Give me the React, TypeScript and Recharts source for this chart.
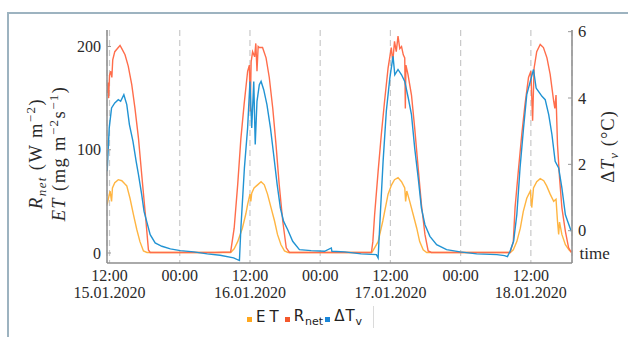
import React from "react";
import { CartesianGrid, Legend, Line, LineChart, XAxis, YAxis } from "recharts";

// time in hours since 15.01.2020 00:00
const etTime = [
  11.6, 11.9, 12.1, 12.35, 12.5, 12.9, 13.5, 14.1, 14.6, 14.95, 15.5, 16.1, 16.65, 17.2, 17.8, 18.4, 24, 30, 32.7,
  33.3, 33.9, 34.7, 35.3, 35.6, 36.0, 36.15, 36.3, 36.7, 37.3, 37.9, 38.45, 39.0, 39.6, 40.2, 40.7, 41.3, 41.9, 42.5, 48, 54, 56.8,
  57.0, 57.9, 58.7, 59.6, 60.2, 60.7, 61.3, 61.9, 62.45, 62.6, 62.8, 63.3, 63.9, 64.5, 65.0, 65.6, 66.2, 72, 78, 80.5,
  81.0, 81.6, 82.2, 82.7, 83.3, 83.9, 84.15, 84.45, 85.0, 85.6, 86.2, 86.7, 87.3, 87.9, 88.3, 88.55, 88.75, 88.9, 89.3, 89.9, 90.5, 90.9,
];
const etValue = [
  47, 55, 60, 50, 63, 68, 71, 70, 67, 65, 53, 37, 23, 11, 2, 0.5, 0.5, 0.5, 0.5,
  4, 11, 24, 38, 47, 57, 50, 58, 63, 66, 69, 66, 57, 44, 31, 18, 8, 2, 0.5, 0.5, 0.5, 0.5,
  2, 11, 31, 57, 66, 71, 73, 69, 63, 50, 60, 50, 37, 24, 11, 3, 0.5, 0.5, 0.5, 0.5,
  3, 11, 24, 40, 53, 60, 44, 63, 69, 72, 70, 65, 57, 50, 52, 31, 18, 30, 18, 8, 3, 1,
];

const rnetTime = [
  11.6, 11.75, 11.85, 12.0, 12.2, 12.4, 12.55, 12.9, 13.5, 13.8, 14.1, 14.65, 15.2, 15.8, 16.35, 16.95, 17.5, 18.1, 18.65, 18.95, 24, 30, 32.7,
  33.3, 33.9, 34.45, 35.0, 35.6, 35.9, 36.05, 36.2, 36.45, 36.8, 37.0, 37.2, 37.4, 37.6, 38.15, 38.75, 39.3, 39.9, 40.45, 41.0, 41.6, 42.2, 42.75, 48, 54, 56.75,
  57.0, 57.3, 57.9, 58.45, 59.0, 59.6, 60.15, 60.4, 60.7, 61.0, 61.3, 61.6, 61.9, 62.2, 62.45, 62.55, 62.65, 63.0, 63.6, 64.15, 64.75, 65.3, 65.9, 66.45, 67.0, 72, 78, 80.45,
  81.0, 81.3, 81.9, 82.45, 83.0, 83.6, 84.0, 84.3, 84.55, 85.0, 85.6, 86.15, 86.75, 87.3, 87.9, 88.1, 88.3, 88.55, 88.9, 89.3, 89.9, 90.45, 90.9,
];
const rnetValue = [
  155, 165, 150, 172, 176, 170, 187, 195, 199, 201, 198, 192, 181, 163, 140, 111, 76, 39, 3, 0.5, 0.5, 0.5, 1,
  24, 66, 111, 144, 176, 182, 137, 185, 195, 190, 203, 176, 200, 199, 199, 189, 170, 140, 105, 66, 31, 5, 0.5, 0.5, 0.5, 0.5,
  11, 37, 79, 115, 147, 179, 199, 185, 205, 195, 210, 198, 200, 192, 189, 140, 182, 173, 153, 121, 82, 47, 18, 2, 0.5, 0.5, 0.5, 0.5,
  11, 44, 82, 115, 144, 170, 176, 128, 179, 195, 202, 199, 189, 173, 147, 140, 153, 105, 73, 44, 21, 5, 0.5,
];

const dtTime = [
  11.6, 11.95, 12.35, 12.9, 13.5, 13.9, 14.45, 14.95, 15.4, 16.0, 16.55, 16.95, 17.5, 17.9, 18.35, 18.95, 19.8, 20.95, 22.4, 24.1, 26.4, 28.7, 30.9, 33.2,
  34.2, 34.45, 35.05, 35.6, 36.0, 36.3, 36.65, 36.9, 37.2, 37.6, 37.9, 38.35, 38.9, 39.5, 40.05, 40.65, 41.2, 41.75, 42.45, 43.3, 44.45, 46.45, 48.75, 49.9, 50.0, 52.2, 55.0,
  57.6, 57.9, 58.3, 58.75, 59.3, 59.9, 60.45, 60.75, 61.3, 61.9, 62.45, 63.05, 63.6, 64.15, 64.75, 65.3, 65.9, 66.75, 67.9, 69.6, 71.9, 74.75, 78.2,
  79.5, 80.0, 80.45, 81.05, 81.6, 82.15, 82.75, 83.3, 83.9, 84.45, 84.9, 85.3, 85.9, 86.45, 87.05, 87.6, 88.15, 88.75, 89.3, 89.9, 90.3, 90.9,
];
const dtValue = [
  1.79, 3.1, 3.7, 3.85, 3.95, 3.9, 4.1, 3.8, 3.2, 2.7, 2.09, 1.69, 1.09, 0.58, 0.28, -0.12, -0.37, -0.47, -0.55, -0.6, -0.64, -0.7, -0.74, -0.82,
  -0.9, 0.08, 1.89, 3.1, 4.5, 3.1, 4.5, 2.6, 3.9, 4.4, 4.5, 4.25, 3.8, 3.1, 2.29, 1.39, 0.68, 0.28, 0.03, -0.32, -0.57, -0.6, -0.62, -0.52, -0.62, -0.64, -0.7,
  -0.72, -0.82, 0.58, 2.09, 3.6, 4.6, 5.26, 4.7, 4.86, 4.7, 4.5, 4.0, 3.5, 2.49, 1.59, 0.68, 0.18, -0.17, -0.42, -0.57, -0.64, -0.7, -0.72,
  -0.75, -0.78, -0.62, -0.32, 0.48, 1.89, 3.1, 4.1, 4.5, 4.86, 4.3, 4.2, 4.05, 3.95, 3.5, 2.9, 2.09, 1.89, 1.29, 0.48, 0.28, -0.02,
];

const xTicks = [12, 24, 36, 48, 60, 72, 84];
const xTimeLabels = ["12:00", "00:00", "12:00", "00:00", "12:00", "00:00", "12:00"];
const xDateLabels = ["15.01.2020", "", "16.01.2020", "", "17.01.2020", "", "18.01.2020"];
const leftTicks = [0, 100, 200];
const rightTicks = [0, 2, 4, 6];

const legendNames = ["ET", "R", "ΔT"];
const legendSubs = ["", "net", "v"];

const ET_COLOR = "#ffb542";
const RNET_COLOR = "#ff6d4b";
const DT_COLOR = "#2193d3";
const legendColors = ["#ffa81e", "#f4582c", "#1a86d8"];

const frameColor = "#8e8e8e";
const textColor = "#2a2a2a";
// some stylesheet on the chart wins over plain attributes, so force the serif face
const css = `
.serif-txt, .serif-txt tspan { font-family: "Liberation Serif", serif !important; }
`;

const zip = (t: number[], v: number[]) => t.map((x, i) => ({ t: x, v: v[i] }));
const etData = zip(etTime, etValue);
const rnetData = zip(rnetTime, rnetValue);
const dtData = zip(dtTime, dtValue);

function XTick(props: any) {
  const { x, y, payload } = props;
  const i = xTicks.indexOf(payload.value);
  return (
    <g>
      <text className="serif-txt" x={x} y={y + 18} textAnchor="middle" fontSize={16} fill={textColor}>
        {xTimeLabels[i]}
      </text>
      {xDateLabels[i] ? (
        <text className="serif-txt" x={x} y={y + 34.5} textAnchor="middle" fontSize={16} fill={textColor}>
          {xDateLabels[i]}
        </text>
      ) : null}
    </g>
  );
}

function LeftTick(props: any) {
  const { x, y, payload } = props;
  return (
    <g>
      <line x1={x + 6} x2={x + 10} y1={y} y2={y} stroke="#999" />
      <text className="serif-txt" x={x} y={y} dy="0.35em" textAnchor="end" fontSize={16} fill={textColor}>
        {payload.value}
      </text>
    </g>
  );
}

function RightTick(props: any) {
  const { x, y, payload } = props;
  return (
    <g>
      <line x1={x - 6} x2={x - 10} y1={y} y2={y} stroke="#999" />
      <text className="serif-txt" x={x} y={y} dy="0.35em" textAnchor="start" fontSize={16.5} fill={textColor}>
        {payload.value}
      </text>
    </g>
  );
}

function LeftLabel(props: any) {
  const vb = props.viewBox;
  const right = vb.x + vb.width;
  const cy = vb.y + vb.height / 2 + 7;
  const x1 = right - 65.5;
  const x2 = right - 42;
  return (
    <g fontSize={18.5} fill={textColor} letterSpacing={1.4}>
      <text className="serif-txt" x={x1} y={cy} textAnchor="middle" transform={`rotate(-90, ${x1}, ${cy})`}>
        <tspan fontStyle="italic">R</tspan>
        <tspan fontStyle="italic" fontSize={13} dy={4}>net</tspan>
        <tspan dy={-4}> (W m</tspan>
        <tspan fontSize={13} dy={-7}>−2</tspan>
        <tspan dy={7}>)</tspan>
      </text>
      <text className="serif-txt" x={x2} y={cy} textAnchor="middle" transform={`rotate(-90, ${x2}, ${cy})`}>
        <tspan fontStyle="italic">ET</tspan>
        <tspan> (mg m</tspan>
        <tspan fontSize={13} dy={-7}>−2</tspan>
        <tspan dy={7}>s</tspan>
        <tspan fontSize={13} dy={-7}>−1</tspan>
        <tspan dy={7}>)</tspan>
      </text>
    </g>
  );
}

function RightLabel(props: any) {
  const vb = props.viewBox;
  const x = vb.x + 41.5;
  const cy = vb.y + vb.height / 2;
  return (
    <text
      className="serif-txt"
      x={x}
      y={cy}
      textAnchor="middle"
      transform={`rotate(-90, ${x}, ${cy})`}
      fontSize={18.5}
      fill={textColor}
      letterSpacing={1}
    >
      <tspan>Δ</tspan>
      <tspan fontStyle="italic">T</tspan>
      <tspan fontStyle="italic" fontSize={13} dy={4}>v</tspan>
      <tspan dy={-4}> (°C)</tspan>
    </text>
  );
}

function TimeLabel(props: any) {
  const vb = props.viewBox;
  return (
    <text className="serif-txt" x={vb.x + vb.width + 7.5} y={vb.y - 4} textAnchor="start" fontSize={17} fill={textColor}>
      time
    </text>
  );
}

function LegendContent() {
  return (
    <div
      style={{
        display: "flex",
        alignItems: "center",
        height: 22,
        fontFamily: "'DejaVu Sans', sans-serif",
        fontSize: 15,
        color: "#222",
        borderRight: "1px solid #dadada",
        paddingRight: 9,
      }}
    >
      {legendNames.map((name, i) => (
        <div key={name} style={{ display: "flex", alignItems: "center", marginRight: 2 }}>
          <span style={{ display: "inline-block", width: 5, height: 5, background: legendColors[i], marginRight: 4, marginTop: 4 }} />
          <span style={{ letterSpacing: i === 0 ? 4 : 1, whiteSpace: "nowrap" }}>
            {name}
            {legendSubs[i] ? <sub style={{ fontSize: 11, verticalAlign: -4, letterSpacing: 0 }}>{legendSubs[i]}</sub> : null}
          </span>
        </div>
      ))}
    </div>
  );
}

export default function App() {
  const xDomain = [11.57, 91.03];
  return (
    <div style={{ position: "absolute", left: 0, top: 0, width: 628, height: 337, background: "#fff", overflow: "hidden" }}>
      <style>{css}</style>
      <div
        style={{
          position: "absolute",
          left: 7,
          top: 12,
          width: 700,
          height: 400,
          borderLeft: "2px solid #9db3c0",
          borderTop: "2px solid #9db3c0",
        }}
      />
      <div style={{ position: "absolute", left: 0, top: 0 }}>
        <LineChart width={628} height={337} margin={{ top: 30, right: 16, bottom: 34, left: 47 }}>
          <CartesianGrid yAxisId="left" horizontal={false} stroke="#c9c9c9" strokeDasharray="6 4" strokeWidth={1.2} />
          <XAxis
            dataKey="t"
            type="number"
            domain={xDomain}
            allowDataOverflow
            ticks={xTicks}
            height={40}
            tickSize={0}
            tickMargin={0}
            tickLine={false}
            tick={<XTick />}
            axisLine={{ stroke: frameColor, strokeWidth: 1.5 }}
            label={<TimeLabel />}
          />
          <XAxis
            xAxisId="top"
            orientation="top"
            dataKey="t"
            type="number"
            domain={xDomain}
            allowDataOverflow
            height={0}
            tick={false}
            tickLine={false}
            axisLine={{ stroke: frameColor, strokeWidth: 1.5 }}
          />
          <YAxis
            yAxisId="left"
            type="number"
            domain={[-9.7, 216]}
            allowDataOverflow
            ticks={leftTicks}
            width={60}
            tickSize={0}
            tickMargin={6}
            tickLine={false}
            tick={<LeftTick />}
            axisLine={{ stroke: frameColor, strokeWidth: 1.5 }}
            label={<LeftLabel />}
          />
          <YAxis
            yAxisId="right"
            orientation="right"
            type="number"
            domain={[-0.974, 6.05]}
            allowDataOverflow
            ticks={rightTicks}
            width={40}
            tickSize={0}
            tickMargin={6}
            tickLine={false}
            tick={<RightTick />}
            axisLine={{ stroke: frameColor, strokeWidth: 1.5 }}
            label={<RightLabel />}
          />
          <Legend
            layout="horizontal"
            verticalAlign="middle"
            align="center"
            content={<LegendContent />}
            wrapperStyle={{ left: 247, top: 306, width: "auto", height: 22 }}
          />
          <Line
            data={etData}
            dataKey="v"
            name="ET"
            yAxisId="left"
            type="linear"
            stroke={ET_COLOR}
            strokeWidth={1.4}
            dot={false}
            isAnimationActive={false}
          />
          <Line
            data={rnetData}
            dataKey="v"
            name="Rnet"
            yAxisId="left"
            type="linear"
            stroke={RNET_COLOR}
            strokeWidth={1.4}
            dot={false}
            isAnimationActive={false}
          />
          <Line
            data={dtData}
            dataKey="v"
            name="dTv"
            yAxisId="right"
            type="linear"
            stroke={DT_COLOR}
            strokeWidth={1.4}
            dot={false}
            isAnimationActive={false}
          />
        </LineChart>
      </div>
    </div>
  );
}
